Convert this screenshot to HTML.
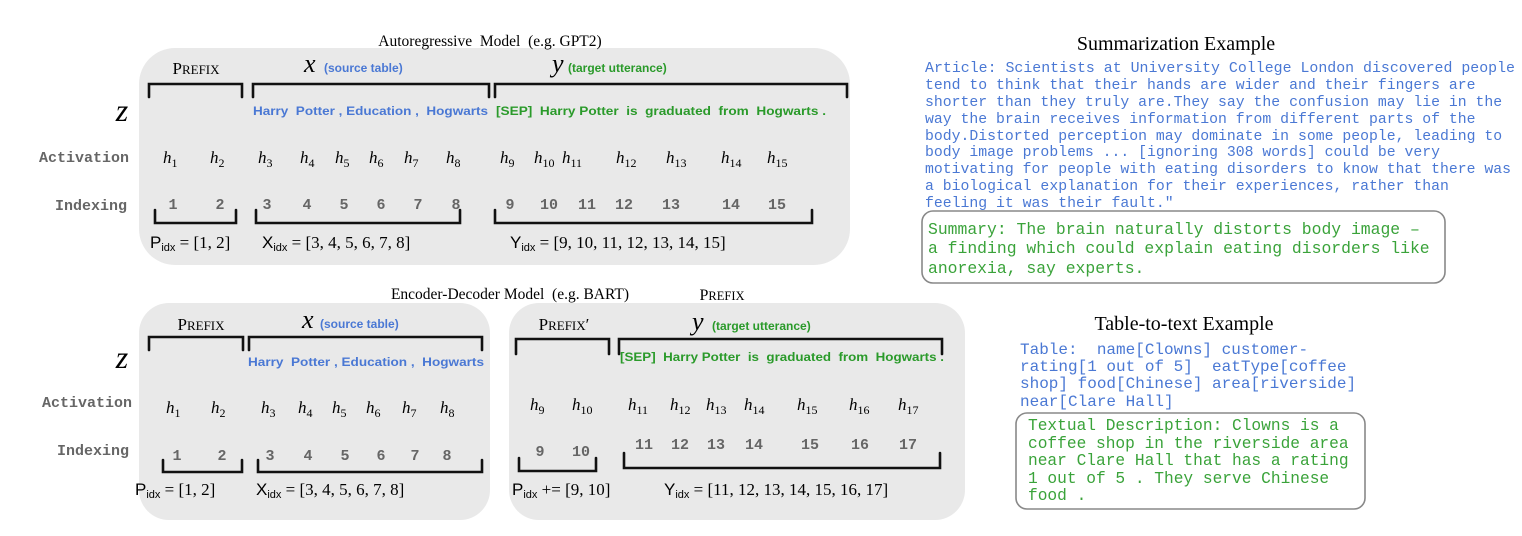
<!DOCTYPE html>
<html><head><meta charset="utf-8"><style>
html,body{margin:0;padding:0;background:#fff}
svg{display:block}
text{white-space:pre}
.ser{font-family:"Liberation Serif",serif}
.it{font-family:"Liberation Serif",serif;font-style:italic}
.lab{font-family:"Liberation Mono",monospace;font-weight:bold;fill:#666;font-size:15px}
.num{font-family:"Liberation Mono",monospace;font-weight:bold;fill:#666;font-size:15px}
.tok{font-family:"Liberation Sans",sans-serif;font-weight:bold;font-size:12px}
.blue{fill:#4a78d4}.green{fill:#2a9a2a}
.mono{font-family:"Liberation Mono",monospace}
.br{fill:none;stroke:#111;stroke-width:2.6;stroke-linecap:round}
.h{font-size:17px}
.sub{font-size:12px}
</style></head><body>
<svg width="1522" height="536" viewBox="0 0 1522 536" xmlns="http://www.w3.org/2000/svg" xml:space="preserve">
<rect x="139" y="48" width="711" height="217" rx="36" fill="#e9e9e9"/>
<rect x="139" y="303" width="351" height="217" rx="30" fill="#e9e9e9"/>
<rect x="509" y="303" width="456" height="217" rx="30" fill="#e9e9e9"/>

<text x="490" y="46" class="ser" font-size="15.5" text-anchor="middle">Autoregressive  Model  (e.g. GPT2)</text>
<text x="510" y="299" class="ser" font-size="15.5" text-anchor="middle">Encoder-Decoder Model  (e.g. BART)</text>
<text x="722" y="300" class="ser" font-size="16" text-anchor="middle">P<tspan font-size="12.5">REFIX</tspan></text>

<text x="122" y="121" class="it" font-size="32" text-anchor="middle">z</text>
<text x="129" y="162" class="lab" text-anchor="end">Activation</text>
<text x="127" y="210" class="lab" text-anchor="end">Indexing</text>
<text x="122" y="368" class="it" font-size="32" text-anchor="middle">z</text>
<text x="132" y="407" class="lab" text-anchor="end">Activation</text>
<text x="129" y="455" class="lab" text-anchor="end">Indexing</text>

<!-- TOP -->
<text x="196" y="74" class="ser" font-size="17" text-anchor="middle">P<tspan font-size="13">REFIX</tspan></text>
<text x="304" y="72" class="it" font-size="26">x</text>
<text x="324" y="72" class="tok blue" font-size="11">(source table)</text>
<text x="552" y="72" class="it" font-size="26">y</text>
<text x="568" y="72" class="tok green" font-size="11">(target utterance)</text>
<path class="br" d="M149 97 V84 H242 V97"/>
<path class="br" d="M253 97 V84 H489 V97"/>
<path class="br" d="M495 97 V84 H847 V97"/>
<text x="253" y="115" class="tok blue" textLength="235" lengthAdjust="spacingAndGlyphs">Harry  Potter , Education ,  Hogwarts</text>
<text x="496" y="115" class="tok green" textLength="330" lengthAdjust="spacingAndGlyphs">[SEP]  Harry Potter  is  graduated  from  Hogwarts .</text>

<g class="it h">
<text x="163" y="163">h<tspan class="sub" dy="4" font-style="normal">1</tspan></text>
<text x="210" y="163">h<tspan class="sub" dy="4" font-style="normal">2</tspan></text>
<text x="258" y="163">h<tspan class="sub" dy="4" font-style="normal">3</tspan></text>
<text x="300" y="163">h<tspan class="sub" dy="4" font-style="normal">4</tspan></text>
<text x="335" y="163">h<tspan class="sub" dy="4" font-style="normal">5</tspan></text>
<text x="369" y="163">h<tspan class="sub" dy="4" font-style="normal">6</tspan></text>
<text x="404" y="163">h<tspan class="sub" dy="4" font-style="normal">7</tspan></text>
<text x="446" y="163">h<tspan class="sub" dy="4" font-style="normal">8</tspan></text>
<text x="500" y="163">h<tspan class="sub" dy="4" font-style="normal">9</tspan></text>
<text x="534" y="163">h<tspan class="sub" dy="4" font-style="normal">10</tspan></text>
<text x="562" y="163">h<tspan class="sub" dy="4" font-style="normal">11</tspan></text>
<text x="616" y="163">h<tspan class="sub" dy="4" font-style="normal">12</tspan></text>
<text x="666" y="163">h<tspan class="sub" dy="4" font-style="normal">13</tspan></text>
<text x="721" y="163">h<tspan class="sub" dy="4" font-style="normal">14</tspan></text>
<text x="767" y="163">h<tspan class="sub" dy="4" font-style="normal">15</tspan></text>
</g>
<g class="num" text-anchor="middle">
<text x="173" y="209">1</text><text x="220" y="209">2</text><text x="267" y="209">3</text>
<text x="307" y="209">4</text><text x="344" y="209">5</text><text x="381" y="209">6</text>
<text x="418" y="209">7</text><text x="456" y="209">8</text><text x="510" y="209">9</text>
<text x="549" y="209">10</text><text x="587" y="209">11</text><text x="624" y="209">12</text>
<text x="671" y="209">13</text><text x="731" y="209">14</text><text x="777" y="209">15</text>
</g>
<path class="br" d="M155 210 V223 H236 V210"/>
<path class="br" d="M256 210 V223 H460 V210"/>
<path class="br" d="M495 210 V223 H812 V210"/>
<g class="ser" font-size="17">
<text x="150" y="248"><tspan font-family="Liberation Sans">P</tspan><tspan font-family="Liberation Sans" font-size="11" dy="3">idx</tspan><tspan dy="-3"> = [1, 2]</tspan></text>
<text x="262" y="248"><tspan font-family="Liberation Sans">X</tspan><tspan font-family="Liberation Sans" font-size="11" dy="3">idx</tspan><tspan dy="-3"> = [3, 4, 5, 6, 7, 8]</tspan></text>
<text x="510" y="248"><tspan font-family="Liberation Sans">Y</tspan><tspan font-family="Liberation Sans" font-size="11" dy="3">idx</tspan><tspan dy="-3"> = [9, 10, 11, 12, 13, 14, 15]</tspan></text>
</g>

<!-- BOTTOM LEFT -->
<text x="201" y="330" class="ser" font-size="17" text-anchor="middle">P<tspan font-size="13">REFIX</tspan></text>
<text x="302" y="328" class="it" font-size="26">x</text>
<text x="320" y="328" class="tok blue" font-size="11">(source table)</text>
<path class="br" d="M149 350 V337 H243 V350"/>
<path class="br" d="M249 350 V337 H482 V350"/>
<text x="248" y="366" class="tok blue" textLength="236" lengthAdjust="spacingAndGlyphs">Harry  Potter , Education ,  Hogwarts</text>
<g class="it h">
<text x="166" y="413">h<tspan class="sub" dy="4" font-style="normal">1</tspan></text>
<text x="211" y="413">h<tspan class="sub" dy="4" font-style="normal">2</tspan></text>
<text x="261" y="413">h<tspan class="sub" dy="4" font-style="normal">3</tspan></text>
<text x="298" y="413">h<tspan class="sub" dy="4" font-style="normal">4</tspan></text>
<text x="332" y="413">h<tspan class="sub" dy="4" font-style="normal">5</tspan></text>
<text x="366" y="413">h<tspan class="sub" dy="4" font-style="normal">6</tspan></text>
<text x="402" y="413">h<tspan class="sub" dy="4" font-style="normal">7</tspan></text>
<text x="440" y="413">h<tspan class="sub" dy="4" font-style="normal">8</tspan></text>
</g>
<g class="num" text-anchor="middle">
<text x="177" y="460">1</text><text x="222" y="460">2</text><text x="270" y="460">3</text>
<text x="308" y="460">4</text><text x="345" y="460">5</text><text x="381" y="460">6</text>
<text x="415" y="460">7</text><text x="447" y="460">8</text>
</g>
<path class="br" d="M163 460 V472 H242 V460"/>
<path class="br" d="M258 460 V472 H482 V460"/>
<g class="ser" font-size="17">
<text x="135" y="495"><tspan font-family="Liberation Sans">P</tspan><tspan font-family="Liberation Sans" font-size="11" dy="3">idx</tspan><tspan dy="-3"> = [1, 2]</tspan></text>
<text x="256" y="495"><tspan font-family="Liberation Sans">X</tspan><tspan font-family="Liberation Sans" font-size="11" dy="3">idx</tspan><tspan dy="-3"> = [3, 4, 5, 6, 7, 8]</tspan></text>
</g>

<!-- BOTTOM RIGHT -->
<text x="564" y="330" class="ser" font-size="17" text-anchor="middle">P<tspan font-size="13">REFIX</tspan>′</text>
<text x="692" y="330" class="it" font-size="26">y</text>
<text x="712" y="330" class="tok green" font-size="11">(target utterance)</text>
<path class="br" d="M516 354 V339 H609 V354"/>
<path class="br" d="M619 354 V339 H942 V354"/>
<text x="620" y="361" class="tok green" textLength="324" lengthAdjust="spacingAndGlyphs">[SEP]  Harry Potter  is  graduated  from  Hogwarts .</text>
<g class="it h">
<text x="530" y="410">h<tspan class="sub" dy="4" font-style="normal">9</tspan></text>
<text x="572" y="410">h<tspan class="sub" dy="4" font-style="normal">10</tspan></text>
<text x="628" y="410">h<tspan class="sub" dy="4" font-style="normal">11</tspan></text>
<text x="670" y="410">h<tspan class="sub" dy="4" font-style="normal">12</tspan></text>
<text x="706" y="410">h<tspan class="sub" dy="4" font-style="normal">13</tspan></text>
<text x="744" y="410">h<tspan class="sub" dy="4" font-style="normal">14</tspan></text>
<text x="797" y="410">h<tspan class="sub" dy="4" font-style="normal">15</tspan></text>
<text x="849" y="410">h<tspan class="sub" dy="4" font-style="normal">16</tspan></text>
<text x="898" y="410">h<tspan class="sub" dy="4" font-style="normal">17</tspan></text>
</g>
<g class="num" text-anchor="middle">
<text x="540" y="456">9</text><text x="581" y="456">10</text>
<text x="644" y="449">11</text><text x="680" y="449">12</text><text x="716" y="449">13</text>
<text x="754" y="449">14</text><text x="810" y="449">15</text><text x="860" y="449">16</text>
<text x="908" y="449">17</text>
</g>
<path class="br" d="M519 458 V471 H596 V458"/>
<path class="br" d="M624 453 V468 H940 V453"/>
<g class="ser" font-size="17">
<text x="512" y="495"><tspan font-family="Liberation Sans">P</tspan><tspan font-family="Liberation Sans" font-size="11" dy="3">idx</tspan><tspan dy="-3"> += [9, 10]</tspan></text>
<text x="664" y="495"><tspan font-family="Liberation Sans">Y</tspan><tspan font-family="Liberation Sans" font-size="11" dy="3">idx</tspan><tspan dy="-3"> = [11, 12, 13, 14, 15, 16, 17]</tspan></text>
</g>

<!-- SUMMARIZATION -->
<text x="1176" y="50" class="ser" font-size="20" text-anchor="middle">Summarization Example</text>
<g class="mono blue" font-size="14.8">
<text x="925" y="72" textLength="590" lengthAdjust="spacingAndGlyphs">Article: Scientists at University College London discovered people</text>
<text x="925" y="89">tend to think that their hands are wider and their fingers are</text>
<text x="925" y="106">shorter than they truly are.They say the confusion may lie in the</text>
<text x="925" y="123">way the brain receives information from different parts of the</text>
<text x="925" y="140">body.Distorted perception may dominate in some people, leading to</text>
<text x="925" y="156">body image problems ... [ignoring 308 words] could be very</text>
<text x="925" y="173">motivating for people with eating disorders to know that there was</text>
<text x="925" y="190">a biological explanation for their experiences, rather than</text>
<text x="925" y="207">feeling it was their fault."</text>
</g>
<rect x="922" y="211" width="523" height="72" rx="11" fill="none" stroke="#888" stroke-width="1.6"/>
<g class="mono" font-size="16.4" style="fill:#3aa33a">
<text x="928" y="234">Summary: The brain naturally distorts body image –</text>
<text x="928" y="253">a finding which could explain eating disorders like</text>
<text x="928" y="273">anorexia, say experts.</text>
</g>

<!-- TABLE-TO-TEXT -->
<text x="1184" y="330" class="ser" font-size="20" text-anchor="middle">Table-to-text Example</text>
<g class="mono blue" font-size="16">
<text x="1020" y="354">Table:  name[Clowns] customer-</text>
<text x="1020" y="371">rating[1 out of 5]  eatType[coffee</text>
<text x="1020" y="388">shop] food[Chinese] area[riverside]</text>
<text x="1020" y="406">near[Clare Hall]</text>
</g>
<rect x="1016" y="413" width="349" height="96" rx="11" fill="none" stroke="#888" stroke-width="1.6"/>
<g class="mono" font-size="16.2" style="fill:#3aa33a">
<text x="1028" y="430">Textual Description: Clowns is a</text>
<text x="1028" y="448">coffee shop in the riverside area</text>
<text x="1028" y="465">near Clare Hall that has a rating</text>
<text x="1028" y="483">1 out of 5 . They serve Chinese</text>
<text x="1028" y="500">food .</text>
</g>
</svg>
</body></html>
